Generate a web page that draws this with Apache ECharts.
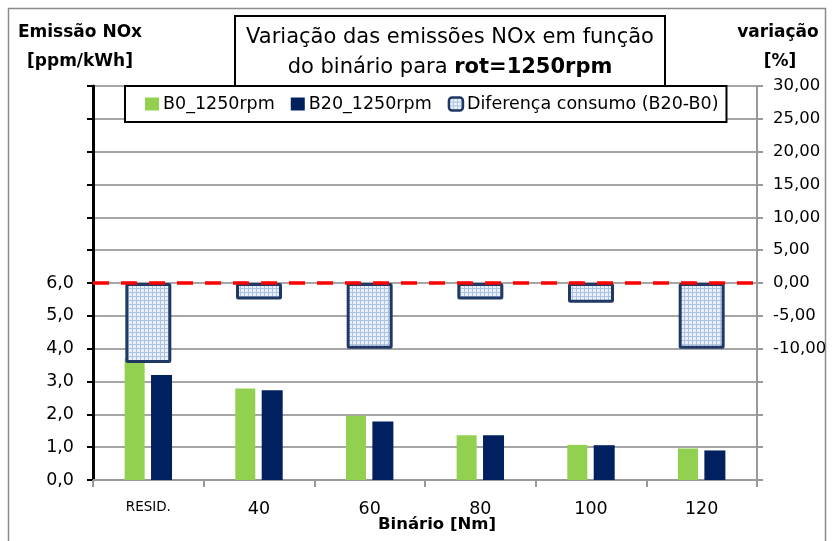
<!DOCTYPE html>
<html><head><meta charset="utf-8">
<script src="https://cdn.jsdelivr.net/npm/echarts@6/dist/echarts.min.js"></script>
<style>html,body{margin:0;padding:0;background:#fff}#c{width:836px;height:541px}</style>
</head><body><div id="c"></div>
<script>
var categories = ['RESID.', '40', '60', '80', '100', '120'];
var b0Values = [3.7, 2.79, 1.96, 1.36, 1.07, 0.96];
var b20Values = [3.2, 2.73, 1.78, 1.36, 1.06, 0.90];
var diffValues = [-12.2, -2.5, -10.0, -2.5, -3.0, -10.0];
var leftTicks = [0, 1, 2, 3, 4, 5, 6];
var rightTicks = [-10, -5, 0, 5, 10, 15, 20, 25, 30];

var FONT = '"DejaVu Sans", "Open Sans", sans-serif';

var pc = document.createElement('canvas');
pc.width = 4; pc.height = 4;
var px = pc.getContext('2d');
px.fillStyle = '#e9f0f9'; px.fillRect(0,0,4,4);
px.fillStyle = '#acc3e3'; px.fillRect(0,0,4,1); px.fillRect(0,0,1,4);
var pattern = {image: pc, repeat: 'repeat'};

var chart = echarts.init(document.getElementById('c'));
chart.setOption({
  animation: false,
  textStyle: {fontFamily: FONT},
  grid: {left: 93, right: 79, top: 86, bottom: 61, outerBoundsMode: 'none'},
  legend: {
    left: 125, top: 86,
    padding: [9, 8, 9, 20], itemGap: 16,
    borderColor: '#000', borderWidth: 2,
    backgroundColor: '#fff',
    itemWidth: 14, itemHeight: 13,
    textStyle: {fontFamily: FONT, fontSize: 17.5, color: '#000', padding: [0,0,0,-1]},
    data: [
      {name: 'B0_1250rpm', icon: 'rect'},
      {name: 'B20_1250rpm', icon: 'rect'},
      {name: 'Diferença consumo (B20-B0)', icon: 'roundRect', itemStyle: {borderWidth: 2.5}}
    ],
    z: 10
  },
  xAxis: [{
    type: 'category', data: categories,
    axisLine: {lineStyle: {color: '#999', width: 2}},
    axisTick: {show: true, interval: 0, length: 7, lineStyle: {color: '#999', width: 2}},
    axisLabel: {
      interval: 0, hideOverlap: false,
      margin: 20, color: '#000', fontSize: 17.5,
      formatter: function (v) { return v === 'RESID.' ? '{s|' + v + '}' : v; },
      rich: {s: {fontSize: 13.5, fontFamily: FONT, color: '#000'}}
    }
  }, {
    type: 'category', data: categories, show: false
  }],
  yAxis: [{
    type: 'value', min: 0, max: 12, interval: 1,
    axisLine: {show: true, lineStyle: {color: '#000', width: 3}},
    axisTick: {show: true, length: 6, lineStyle: {color: '#000', width: 2}},
    splitLine: {lineStyle: {color: '#a6a6a6', width: 2}},
    axisLabel: {
      color: '#000', fontSize: 17.5, margin: 19,
      formatter: function (v) { return leftTicks.indexOf(v) >= 0 ? v.toFixed(1).replace('.', ',') : ''; }
    }
  }, {
    type: 'value', min: -30, max: 30, interval: 5,
    axisLine: {show: true, lineStyle: {color: '#999', width: 2}},
    axisTick: {show: true, length: 6, lineStyle: {color: '#999', width: 2}},
    splitLine: {show: false},
    axisLabel: {
      color: '#000', fontSize: 16.5, margin: 16, align: 'left',
      formatter: function (v) { return rightTicks.indexOf(v) >= 0 ? v.toFixed(2).replace('.', ',') : ''; }
    }
  }],
  series: [{
    name: 'B0_1250rpm', type: 'bar', data: b0Values,
    xAxisIndex: 0, yAxisIndex: 0, barWidth: 20, barGap: '32%',
    itemStyle: {color: '#92d050'}, z: 2
  }, {
    name: 'B20_1250rpm', type: 'bar', data: b20Values,
    xAxisIndex: 0, yAxisIndex: 0, barWidth: 21,
    itemStyle: {color: '#002060'}, z: 2
  }, {
    name: 'Diferença consumo (B20-B0)', type: 'bar', data: diffValues,
    xAxisIndex: 1, yAxisIndex: 1, barWidth: 46,
    itemStyle: {color: pattern, borderColor: '#1f3864', borderWidth: 3, borderRadius: 1},
    z: 3,
    markLine: {
      silent: true, symbol: 'none', z: 6,
      label: {show: false},
      lineStyle: {color: '#ff0000', type: [16, 12], width: 3.5},
      data: [{yAxis: 0}]
    }
  }],
  graphic: [
    {type: 'rect', shape: {x: 8.5, y: 8.5, width: 817, height: 540}, style: {fill: null, stroke: '#8c8c8c', lineWidth: 1.5}, z: 0, silent: true},
    {type: 'rect', shape: {x: 235, y: 16, width: 430, height: 70}, style: {fill: '#fff', stroke: '#000', lineWidth: 2}, z: 20},
    {type: 'text', x: 450, y: 38, style: {text: 'Variação das emissões NOx em função', font: '21px ' + FONT, fill: '#000', textAlign: 'center', textVerticalAlign: 'middle'}, z: 21},
    {type: 'text', x: 450, y: 68, style: {
      text: '{n|do binário para }{b|rot=1250rpm}', textAlign: 'center', textVerticalAlign: 'middle',
      rich: {n: {fontSize: 21, fontFamily: FONT, color: '#000'}, b: {fontSize: 21, fontFamily: FONT, fontWeight: 'bold', color: '#000'}}
    }, z: 21},
    {type: 'text', x: 80, y: 33, style: {text: 'Emissão NOx', font: 'bold 17px ' + FONT, fill: '#000', textAlign: 'center', textVerticalAlign: 'middle'}},
    {type: 'text', x: 80, y: 62, style: {text: '[ppm/kWh]', font: 'bold 17px ' + FONT, fill: '#000', textAlign: 'center', textVerticalAlign: 'middle'}},
    {type: 'text', x: 778, y: 33, style: {text: 'variação', font: 'bold 17px ' + FONT, fill: '#000', textAlign: 'center', textVerticalAlign: 'middle'}},
    {type: 'text', x: 780, y: 62, style: {text: '[%]', font: 'bold 17px ' + FONT, fill: '#000', textAlign: 'center', textVerticalAlign: 'middle'}},
    {type: 'text', x: 437, y: 525, style: {text: 'Binário [Nm]', font: 'bold 16.5px ' + FONT, fill: '#000', textAlign: 'center', textVerticalAlign: 'middle'}}
  ]
});
</script>
</body></html>
